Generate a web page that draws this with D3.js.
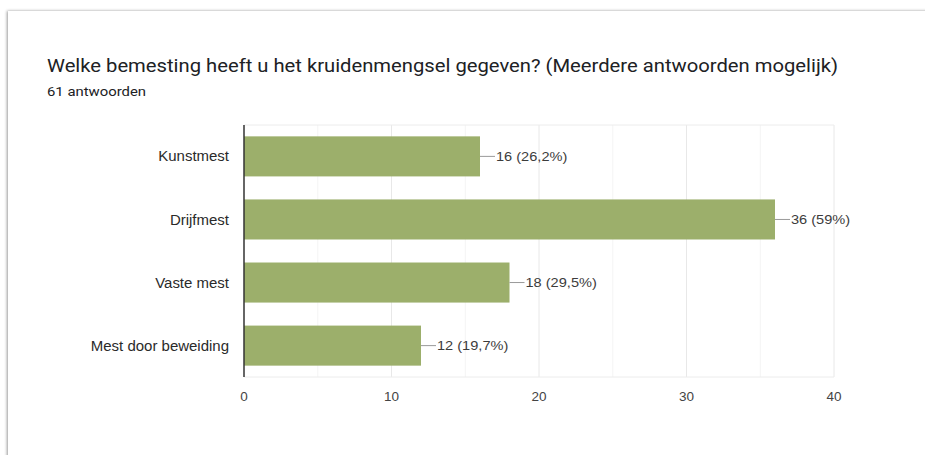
<!DOCTYPE html>
<html>
<head>
<meta charset="utf-8">
<script src="https://cdn.jsdelivr.net/npm/d3@7"></script>
<style>
  body { margin: 0; background: #fff; }
</style>
</head>
<body>
<div id="chart"></div>
<script>
const categories = ['Kunstmest', 'Drijfmest', 'Vaste mest', 'Mest door beweiding'];
const counts = [16, 36, 18, 12];
const percentLabels = ['26,2%', '59%', '29,5%', '19,7%'];
const xTicks = [0, 10, 20, 30, 40];
const minorTicks = [5, 15, 25, 35];

const W = 925;
const H = 455;
const margin = { top: 125, right: 91, bottom: 78, left: 244 };
const width = W - margin.left - margin.right;
const height = H - margin.top - margin.bottom;

// the screenshot is a bit wider than tall, so stretch text horizontally
const stretch = (sel, f) => {
  sel.each(function () {
    const len = this.getComputedTextLength();
    d3.select(this)
      .attr('textLength', len * f)
      .attr('lengthAdjust', 'spacingAndGlyphs');
  });
};

const svg = d3.select('#chart').append('svg')
    .attr('width', W)
    .attr('height', H);

// card shadow
const defs = svg.append('defs');
const filt = defs.append('filter')
    .attr('id', 'shadow')
    .attr('x', '-5%').attr('y', '-5%')
    .attr('width', '110%').attr('height', '110%');
filt.append('feDropShadow')
    .attr('dx', -1).attr('dy', 0)
    .attr('stdDeviation', 1.8)
    .attr('flood-color', '#000')
    .attr('flood-opacity', 0.4);

svg.append('rect')
    .attr('x', 8).attr('y', 11)
    .attr('width', 960).attr('height', 500)
    .attr('fill', '#fff')
    .attr('filter', 'url(#shadow)');

svg.append('text')
    .attr('x', 47).attr('y', 72)
    .attr('font-family', 'Roboto, sans-serif')
    .attr('font-size', 18)
    .attr('fill', '#202124')
    .attr('textLength', 791)
    .attr('lengthAdjust', 'spacingAndGlyphs')
    .text('Welke bemesting heeft u het kruidenmengsel gegeven? (Meerdere antwoorden mogelijk)');

svg.append('text')
    .attr('x', 47).attr('y', 96)
    .attr('font-family', 'Roboto, sans-serif')
    .attr('font-size', 12.5)
    .attr('fill', '#202124')
    .attr('textLength', 99)
    .attr('lengthAdjust', 'spacingAndGlyphs')
    .text('61 antwoorden');

const g = svg.append('g')
    .attr('transform', `translate(${margin.left}, ${margin.top})`);

const x = d3.scaleLinear().domain([0, 40]).range([0, width]);
const y = d3.scaleBand().domain(categories).range([0, height]).paddingInner(0.365).paddingOuter(0.18);

// minor gridlines
g.selectAll('.minor')
    .data(minorTicks)
  .enter().append('line')
    .attr('x1', d => x(d)).attr('x2', d => x(d))
    .attr('y1', 0).attr('y2', height)
    .attr('stroke', '#f4f4f4');

// major gridlines
g.selectAll('.major')
    .data(xTicks.slice(1))
  .enter().append('line')
    .attr('x1', d => x(d)).attr('x2', d => x(d))
    .attr('y1', 0).attr('y2', height)
    .attr('stroke', '#e8e8e8');

// top and bottom border of plot
g.append('line')
    .attr('x1', 0).attr('x2', width)
    .attr('y1', 0).attr('y2', 0)
    .attr('stroke', '#ececec');
g.append('line')
    .attr('x1', 0).attr('x2', width)
    .attr('y1', height).attr('y2', height)
    .attr('stroke', '#ececec');

g.selectAll('.bar')
    .data(counts)
  .enter().append('rect')
    .attr('class', 'bar')
    .attr('x', 0)
    .attr('y', (d, i) => y(categories[i]))
    .attr('width', d => x(d))
    .attr('height', y.bandwidth())
    .attr('fill', '#9caf6b');

// leader lines + labels
g.selectAll('.lead')
    .data(counts)
  .enter().append('line')
    .attr('x1', d => x(d)).attr('x2', d => x(d) + 15)
    .attr('y1', (d, i) => y(categories[i]) + y.bandwidth() / 2)
    .attr('y2', (d, i) => y(categories[i]) + y.bandwidth() / 2)
    .attr('stroke', '#999');

g.selectAll('.val')
    .data(counts)
  .enter().append('text')
    .attr('x', d => x(d) + 16)
    .attr('y', (d, i) => y(categories[i]) + y.bandwidth() / 2)
    .attr('dy', '0.36em')
    .attr('font-family', 'Liberation Sans, Arial, sans-serif')
    .attr('font-size', 13.5)
    .attr('fill', '#3c3c3c')
    .text((d, i) => `${d} (${percentLabels[i]})`)
    .call(stretch, 1.08);

// category labels
g.selectAll('.cat')
    .data(categories)
  .enter().append('text')
    .attr('x', -15)
    .attr('y', d => y(d) + y.bandwidth() / 2)
    .attr('dy', '0.36em')
    .attr('text-anchor', 'end')
    .attr('font-family', 'Liberation Sans, Arial, sans-serif')
    .attr('font-size', 14)
    .attr('fill', '#2a2a2a')
    .text(d => d)
    .call(stretch, 1.07);

// x tick labels
g.selectAll('.tick-label')
    .data(xTicks)
  .enter().append('text')
    .attr('x', d => x(d))
    .attr('y', height + 24)
    .attr('text-anchor', 'middle')
    .attr('font-family', 'Liberation Sans, Arial, sans-serif')
    .attr('font-size', 13.5)
    .attr('fill', '#444')
    .text(d => d);

// zero axis
g.append('line')
    .attr('x1', 0).attr('x2', 0)
    .attr('y1', 0).attr('y2', height)
    .attr('stroke', '#333')
    .attr('stroke-width', 1.5);
</script>
</body>
</html>
